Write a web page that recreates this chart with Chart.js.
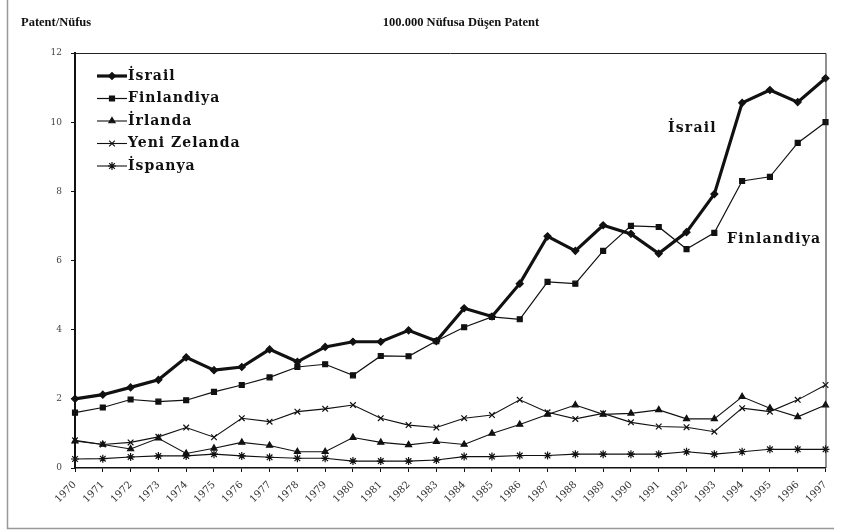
<!DOCTYPE html>
<html>
<head>
<meta charset="utf-8">
<script src="https://cdn.jsdelivr.net/npm/chart.js@4.4.0/dist/chart.umd.min.js"></script>
<style>
  html, body { margin: 0; padding: 0; background: #fff; }
  #wrap { width: 841px; height: 532px; position: relative; }
</style>
</head>
<body>
<div id="wrap"><canvas id="c" width="841" height="532"></canvas></div>
<script>
// yillar
const years = ['1970','1971','1972','1973','1974','1975','1976','1977','1978','1979',
  '1980','1981','1982','1983','1984','1985','1986','1987','1988','1989',
  '1990','1991','1992','1993','1994','1995','1996','1997'];

const israil = [2.0, 2.12, 2.33, 2.55, 3.2, 2.83, 2.92, 3.43, 3.07, 3.5,
  3.65, 3.65, 3.98, 3.67, 4.62, 4.38, 5.33, 6.7, 6.28, 7.02,
  6.77, 6.2, 6.82, 7.92, 10.56, 10.93, 10.58, 11.27];
const finlandiya = [1.6, 1.75, 1.98, 1.92, 1.96, 2.2, 2.4, 2.62, 2.92, 3.0,
  2.68, 3.24, 3.23, 3.67, 4.07, 4.37, 4.3, 5.38, 5.33, 6.28,
  7.0, 6.97, 6.33, 6.8, 8.3, 8.42, 9.4, 10.0];
const irlanda = [0.78, 0.68, 0.55, 0.86, 0.42, 0.57, 0.74, 0.65, 0.47, 0.47,
  0.88, 0.74, 0.67, 0.76, 0.68, 1.0, 1.26, 1.55, 1.82, 1.55,
  1.58, 1.68, 1.42, 1.42, 2.06, 1.73, 1.48, 1.82];
const yeniZelanda = [0.8, 0.68, 0.74, 0.9, 1.17, 0.89, 1.44, 1.34, 1.63, 1.71,
  1.82, 1.44, 1.24, 1.17, 1.44, 1.53, 1.97, 1.61, 1.42, 1.58,
  1.32, 1.2, 1.18, 1.05, 1.73, 1.63, 1.97, 2.4];
const ispanya = [0.26, 0.27, 0.32, 0.35, 0.35, 0.4, 0.35, 0.31, 0.28, 0.28,
  0.2, 0.2, 0.2, 0.23, 0.33, 0.33, 0.36, 0.36, 0.4, 0.4,
  0.4, 0.4, 0.47, 0.4, 0.47, 0.54, 0.54, 0.54];

const yTicks = [0, 2, 4, 6, 8, 10, 12];

const serif = '"DejaVu Serif", "Liberation Serif", serif';

function ds(label, data, style, width, radius) {
  return {
    label: label, data: data,
    borderColor: '#111', backgroundColor: '#111',
    borderWidth: width, pointStyle: style, pointRadius: radius,
    pointBorderWidth: 1.2, pointBorderColor: '#111', pointBackgroundColor: '#111',
    tension: 0
  };
}

// legend + yazilar + cerceve
const decor = {
  id: 'decor',
  beforeDraw(chart) {
    const ctx = chart.ctx;
    ctx.save();
    ctx.fillStyle = '#fff';
    ctx.fillRect(0, 0, chart.width, chart.height);
    ctx.strokeStyle = '#999';
    ctx.lineWidth = 1.5;
    ctx.beginPath();
    ctx.moveTo(7.5, 0); ctx.lineTo(7.5, 528.5); ctx.lineTo(834, 528.5);
    ctx.stroke();
    ctx.restore();
  },
  afterDraw(chart) {
    const ctx = chart.ctx;
    const a = chart.chartArea;
    ctx.save();
    // plot kutusu
    ctx.strokeStyle = '#222';
    ctx.lineWidth = 1;
    ctx.beginPath();
    ctx.moveTo(a.left, a.top + 0.5); ctx.lineTo(a.right + 0.5, a.top + 0.5); ctx.lineTo(a.right + 0.5, a.bottom);
    ctx.stroke();

    // basliklar
    ctx.fillStyle = '#111';
    ctx.textBaseline = 'middle';
    ctx.font = 'bold 12.5px "Liberation Serif", serif';
    ctx.textAlign = 'left';
    ctx.fillText('Patent/Nüfus', 21, 23);
    ctx.textAlign = 'center';
    ctx.fillText('100.000 Nüfusa Düşen Patent', 461, 23);

    // legend
    ctx.font = 'bold 14px ' + serif;
    ctx.letterSpacing = '1px';
    ctx.textAlign = 'left';
    chart.data.datasets.forEach((d, i) => {
      const y = a.top + 23 + i * 22.5;
      const x0 = a.left + 22, x1 = a.left + 52;
      ctx.strokeStyle = '#111';
      ctx.lineWidth = d.borderWidth;
      ctx.beginPath(); ctx.moveTo(x0, y); ctx.lineTo(x1, y); ctx.stroke();
      ctx.fillStyle = '#111';
      ctx.lineWidth = 1.2;
      Chart.helpers.drawPoint(ctx, {pointStyle: d.pointStyle, radius: d.pointRadius, rotation: 0, borderWidth: 1.2}, (x0 + x1) / 2, y);
      ctx.fillText(d.label, x1 + 1, y);
    });

    // seri etiketleri
    ctx.font = 'bold 14px ' + serif;
    ctx.letterSpacing = '1.2px';
    ctx.fillText('İsrail', 668, 128);
    ctx.fillText('Finlandiya', 727, 239);
    ctx.restore();
  }
};

new Chart(document.getElementById('c'), {
  type: 'line',
  data: {
    labels: years,
    datasets: [
      ds('İsrail', israil, 'rectRot', 3.2, 3.5),
      ds('Finlandiya', finlandiya, 'rect', 1.2, 3.5),
      ds('İrlanda', irlanda, 'triangle', 1.1, 3.5),
      ds('Yeni Zelanda', yeniZelanda, 'crossRot', 1.1, 4),
      ds('İspanya', ispanya, 'star', 1.1, 4)
    ]
  },
  options: {
    responsive: false,
    animation: false,
    layout: { padding: { top: 53, right: 13, left: 0, bottom: 0 } },
    plugins: { legend: { display: false }, tooltip: { enabled: false } },
    scales: {
      x: {
        offset: false,
        grid: { drawOnChartArea: false, drawTicks: true, tickLength: 4, color: '#111' },
        border: { color: '#111', width: 1.5 },
        ticks: { color: '#333', font: { family: serif, size: 10 }, maxRotation: 45, minRotation: 45, autoSkip: false, padding: 7 },
        afterFit(s) { s.height = 64; }
      },
      y: {
        min: 0, max: 12,
        afterBuildTicks(s) { s.ticks = yTicks.map(v => ({ value: v })); },
        grid: { drawOnChartArea: false, drawTicks: true, tickLength: 4, color: '#111' },
        border: { color: '#111', width: 2 },
        ticks: { color: '#444', font: { family: serif, size: 9 }, padding: 9 },
        afterFit(s) { s.width = 75; }
      }
    }
  },
  plugins: [decor]
});
</script>
</body>
</html>
